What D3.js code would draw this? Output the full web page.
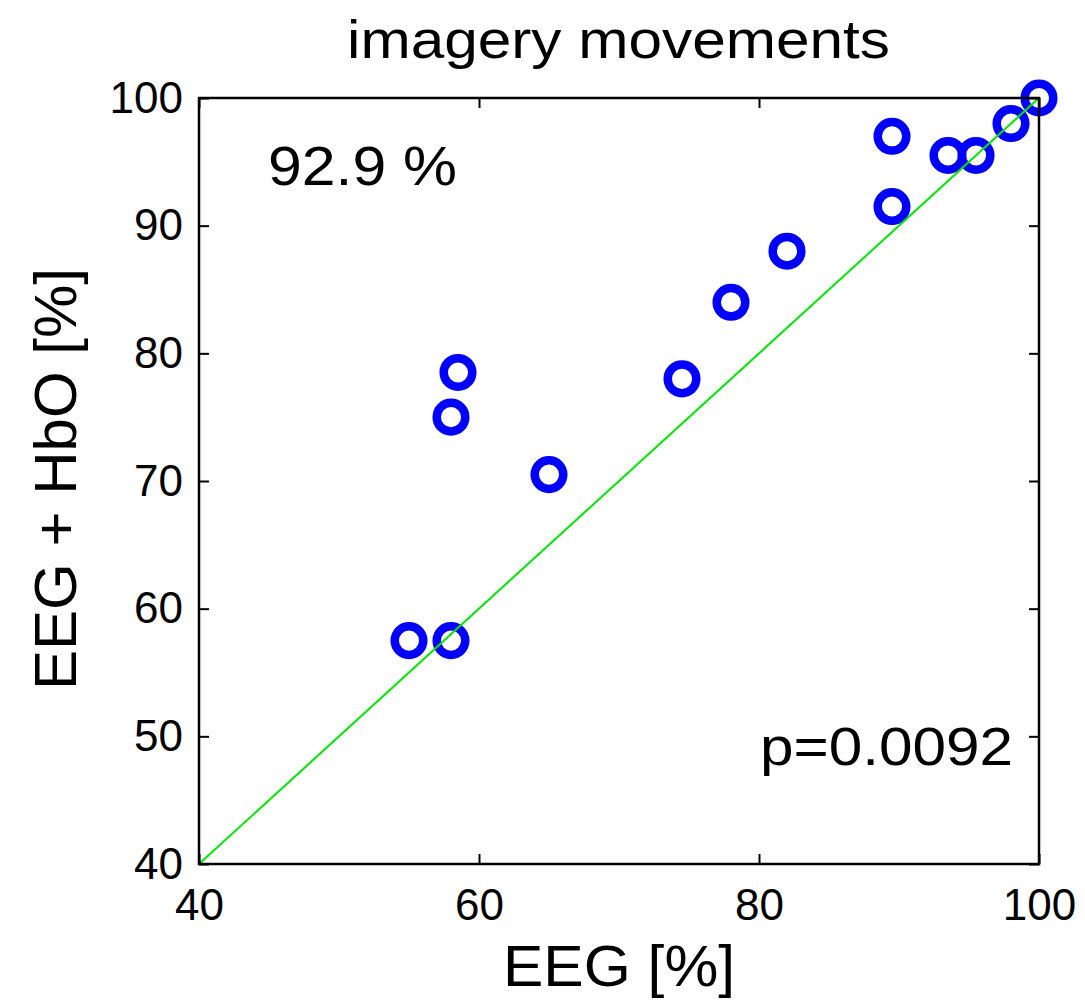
<!DOCTYPE html>
<html>
<head>
<meta charset="utf-8">
<script src="https://cdn.jsdelivr.net/npm/d3@7"></script>
<style>
  html, body { margin: 0; padding: 0; background: #fff; }
  svg { display: block; font-family: "Liberation Sans", Arial, Helvetica, sans-serif; }
</style>
</head>
<body>
<svg id="chart" width="1085" height="1001"></svg>
<script>
// Classification accuracy per subject: EEG alone vs. EEG combined with HbO
const eegAcc    = [55, 58, 58, 58.5, 65, 74.5, 78, 82, 89.5, 89.5, 93.5, 95.5, 98, 100];
const hybridAcc = [57.5, 57.5, 75, 78.5, 70.5, 78, 84, 88, 97, 91.5, 95.5, 95.5, 98, 100];
const xTicks = [40, 60, 80, 100];
const yTicks = [40, 50, 60, 70, 80, 90, 100];
const diagonal = [40, 100];
const titleText = "imagery movements";
const meanText = "92.9 %";
const pText = "p=0.0092";

(function () {
const svg = d3.select("#chart");
const plotLeft = 199, plotRight = 1039, plotTop = 98, plotBottom = 864;

const x = d3.scaleLinear().domain([40, 100]).range([plotLeft, plotRight]);
const y = d3.scaleLinear().domain([40, 100]).range([plotBottom, plotTop]);

// Points (ring markers)
svg.append("g")
  .selectAll("circle")
  .data(eegAcc.map((v, i) => [v, hybridAcc[i]]))
  .join("circle")
  .attr("cx", d => x(d[0]))
  .attr("cy", d => y(d[1]))
  .attr("r", 14.3)
  .attr("fill", "none")
  .attr("stroke", "#0000ff")
  .attr("stroke-width", 8.5);

// Identity line
svg.append("line")
  .attr("x1", x(diagonal[0])).attr("y1", y(diagonal[0]))
  .attr("x2", x(diagonal[1])).attr("y2", y(diagonal[1]))
  .attr("stroke", "#00e600")
  .attr("stroke-width", 2);

// Axes box with inward ticks on all four sides
const tickLen = 10;
const fontTick = 44;
const axisB = svg.append("g").attr("transform", `translate(0,${plotBottom})`)
  .call(d3.axisBottom(x).tickValues(xTicks).tickSize(-tickLen).tickPadding(25).tickFormat(d3.format("d")));
const axisT = svg.append("g").attr("transform", `translate(0,${plotTop})`)
  .call(d3.axisTop(x).tickValues(xTicks).tickSize(-tickLen).tickFormat(""));
const axisL = svg.append("g").attr("transform", `translate(${plotLeft},0)`)
  .call(d3.axisLeft(y).tickValues(yTicks).tickSize(-tickLen).tickPadding(16).tickFormat(d3.format("d")));
const axisR = svg.append("g").attr("transform", `translate(${plotRight},0)`)
  .call(d3.axisRight(y).tickValues(yTicks).tickSize(-tickLen).tickFormat(""));

[axisB, axisT, axisL, axisR].forEach(g => {
  g.select(".domain").remove();
  g.selectAll(".tick line").attr("stroke", "#000").attr("stroke-width", 2);
  g.selectAll("text").attr("font-size", fontTick).attr("fill", "#000")
    .attr("font-family", "'Liberation Sans', Arial, sans-serif");
});

svg.append("rect")
  .attr("x", plotLeft).attr("y", plotTop)
  .attr("width", plotRight - plotLeft).attr("height", plotBottom - plotTop)
  .attr("fill", "none").attr("stroke", "#000").attr("stroke-width", 2.5);

// Title
svg.append("text")
  .attr("x", 347).attr("y", 58)
  .attr("font-size", 54)
  .attr("textLength", 543).attr("lengthAdjust", "spacingAndGlyphs")
  .text(titleText);

// Axis labels
svg.append("text")
  .attr("x", 503).attr("y", 986)
  .attr("font-size", 57)
  .attr("textLength", 232).attr("lengthAdjust", "spacingAndGlyphs")
  .text("EEG [%]");

svg.append("text")
  .attr("transform", `translate(76,690) rotate(-90)`)
  .attr("font-size", 60)
  .attr("textLength", 422).attr("lengthAdjust", "spacingAndGlyphs")
  .text("EEG + HbO [%]");

// Annotations
svg.append("text")
  .attr("x", 268).attr("y", 185)
  .attr("font-size", 56)
  .attr("textLength", 189).attr("lengthAdjust", "spacingAndGlyphs")
  .text(meanText);

svg.append("text")
  .attr("x", 760).attr("y", 765)
  .attr("font-size", 54)
  .attr("textLength", 253).attr("lengthAdjust", "spacingAndGlyphs")
  .text(pText);
})();
</script>
</body>
</html>
